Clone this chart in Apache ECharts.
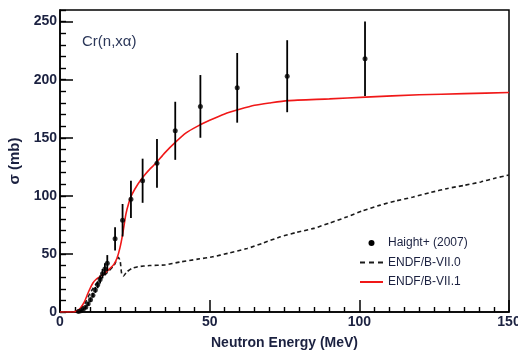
<!DOCTYPE html>
<html>
<head>
<meta charset="utf-8">
<script src="https://cdn.jsdelivr.net/npm/echarts@6/dist/echarts.min.js"></script>
<style>
  html, body { margin: 0; padding: 0; background: #fff; }
  #chart { width: 518px; height: 351px; }
</style>
</head>
<body>
<div id="chart"></div>
<script>
// Measured Cr(n,xα) cross sections, Haight et al. (2007)
const haightEnergy = [6.2, 7.0, 7.8, 8.6, 9.4, 10.2, 11.0, 11.8, 12.6, 13.4, 14.2, 15.0, 15.8,
                      18.4, 20.9, 23.7, 27.6, 32.4, 38.5, 46.9, 59.2, 75.9, 101.9];
const haightSigma  = [0.5, 1, 2.5, 4, 7, 10.5, 14.5, 19, 23.5, 28, 33, 37, 42,
                      63, 79, 97, 113, 128, 156, 177, 193, 203, 218];
const haightError  = [0.5, 1, 1, 1.5, 1.5, 2, 2, 2.5, 3, 3.5, 4, 5, 7,
                      10, 14, 16, 19, 21, 25, 27, 30, 31, 32];

// Evaluated cross section, ENDF/B-VII.0
const endf70Energy = [0, 4, 6, 8, 10, 12, 14, 16, 18, 19.5, 20.1, 20.6, 21.2, 22.3, 24, 26, 30, 35,
                      40, 46, 51, 56, 62.5, 68, 73.6, 79, 84.8, 90, 96, 101, 107, 112, 118, 124,
                      129.5, 135, 140.6, 145, 150];
const endf70Sigma  = [0, 0, 1.2, 6, 16, 24, 29.5, 34.5, 40, 47, 44, 33, 31, 34.5, 37.5, 39, 40, 40.5,
                      43, 45.5, 47.5, 50.5, 54.6, 59.5, 64.7, 68.5, 72, 76.5, 82, 87, 92, 95.5, 99, 103,
                      106.4, 109, 112, 115, 118];

// Evaluated cross section, ENDF/B-VII.1
const endf71Energy = [0, 4.5, 5.5, 6.7, 8, 9, 10, 11, 12, 13.4, 15, 16.7, 18, 19, 20, 21, 22, 23, 24,
                      26, 28, 30, 32, 35, 38.5, 42, 46, 50, 55, 60, 65, 70, 76, 90, 102, 120, 135, 150];
const endf71Sigma  = [0, 0, 0.8, 3, 8, 14, 20, 25, 28, 30.5, 33.5, 37.5, 41, 46, 55, 68, 84, 94, 101,
                      110, 117, 123, 128, 137, 146, 154, 160, 165, 170.5, 174.5, 178, 180, 182, 183.5,
                      185, 187, 188, 189];

// Axis ticks
const xTicks = [0, 50, 100, 150];
const yTicks = [0, 50, 100, 150, 200, 250];

const pairs = (xs, ys) => xs.map((x, i) => [x, ys[i]]);

const textColor = '#1b2140';
const fontFamily = '"Liberation Sans", Arial, Helvetica, sans-serif';

// legend glyphs: a plain stroke and a three-dash stroke
const solidIcon = 'path://M0,0h23v2h-23z';
const dashedIcon = 'path://M0,0h5v2h-5zM9,0h5v2h-5zM18,0h5v2h-5z';

const chart = echarts.init(document.getElementById('chart'), null, { renderer: 'canvas' });

chart.setOption({
  animation: false,
  backgroundColor: '#fff',
  textStyle: { fontFamily: fontFamily },
  title: {
    text: 'Cr(n,xα)',
    left: 82,
    top: 34,
    padding: 0,
    textStyle: { fontSize: 15, fontWeight: 'normal', color: '#2c385a', fontFamily: fontFamily }
  },
  legend: {
    orient: 'vertical',
    left: 360,
    top: 237,
    padding: 0,
    itemWidth: 23,
    itemHeight: 6,
    itemGap: 7.5,
    textStyle: { fontSize: 12, color: textColor, fontFamily: fontFamily },
    data: [
      { name: 'Haight+ (2007)', icon: 'circle' },
      { name: 'ENDF/B-VII.0', icon: dashedIcon },
      { name: 'ENDF/B-VII.1', icon: solidIcon }
    ]
  },
  grid: {
    left: 60, right: 9, top: 10, bottom: 39,
    outerBoundsMode: 'none',
    show: true,
    borderColor: '#000',
    borderWidth: 1.5,
    backgroundColor: 'transparent'
  },
  xAxis: {
    type: 'value',
    min: 0, max: 150, interval: 50,
    name: 'Neutron Energy (MeV)',
    nameLocation: 'middle',
    nameGap: 24,
    nameTextStyle: { fontSize: 14, fontWeight: 'bold', color: textColor },
    axisLine: { show: true, lineStyle: { color: '#000', width: 1.5 } },
    axisTick: { show: true, inside: true, length: 12, lineStyle: { color: '#000', width: 1.5 } },
    minorTick: { show: true, splitNumber: 10, length: 5, lineStyle: { color: '#000', width: 1.4 } },
    axisLabel: {
      margin: 3, fontSize: 14, fontWeight: 'bold', color: textColor,
      formatter: v => (xTicks.includes(v) ? String(v) : '')
    },
    splitLine: { show: false }
  },
  yAxis: [
    {
      type: 'value',
      position: 'left',
      min: 0, max: 260, interval: 10,
      name: 'σ (mb)',
      nameLocation: 'middle',
      nameGap: 33,
      nameRotate: 90,
      nameTextStyle: { fontSize: 15, fontWeight: 'bold', color: textColor },
      axisLine: { show: true, lineStyle: { color: '#000', width: 1.5 } },
      axisTick: { show: true, inside: true, interval: 0, length: 6, lineStyle: { color: '#000', width: 1.4 } },
      axisLabel: {
        interval: 0, margin: 3, fontSize: 14, fontWeight: 'bold', color: textColor,
        formatter: v => (yTicks.includes(v) ? String(v) : '')
      },
      splitLine: { show: false }
    },
    {
      // longer ticks at the labelled values
      type: 'value',
      position: 'left',
      offset: 0,
      min: 0, max: 260, interval: 50,
      axisLine: { show: false },
      axisTick: { show: true, inside: true, interval: 0, length: 13, customValues: yTicks,
                  lineStyle: { color: '#000', width: 1.5 } },
      axisLabel: { show: false },
      splitLine: { show: false }
    }
  ],
  series: [
    {
      name: 'ENDF/B-VII.0',
      type: 'line',
      data: pairs(endf70Energy, endf70Sigma),
      symbol: 'none',
      smooth: 0.2,
      lineStyle: { color: '#1a1a1a', width: 1.6, type: [4, 3] },
      itemStyle: { color: '#1a1a1a' },
      z: 2
    },
    {
      name: 'ENDF/B-VII.1',
      type: 'line',
      data: pairs(endf71Energy, endf71Sigma),
      symbol: 'none',
      smooth: 0.2,
      lineStyle: { color: '#f01818', width: 1.6 },
      itemStyle: { color: '#f01818' },
      z: 3
    },
    {
      name: 'Haight+ (2007)',
      type: 'custom',
      data: haightEnergy.map((e, i) => [e, haightSigma[i] - haightError[i], haightSigma[i] + haightError[i]]),
      renderItem: (params, api) => {
        const lo = api.coord([api.value(0), api.value(1)]);
        const hi = api.coord([api.value(0), api.value(2)]);
        return {
          type: 'line',
          shape: { x1: lo[0], y1: lo[1], x2: hi[0], y2: hi[1] },
          style: { stroke: '#000', lineWidth: 1.8 }
        };
      },
      itemStyle: { color: '#000' },
      z: 4
    },
    {
      name: 'Haight+ (2007)',
      type: 'scatter',
      data: pairs(haightEnergy, haightSigma),
      symbol: 'circle',
      symbolSize: 5,
      itemStyle: { color: '#000' },
      z: 5
    }
  ]
});
</script>
</body>
</html>
